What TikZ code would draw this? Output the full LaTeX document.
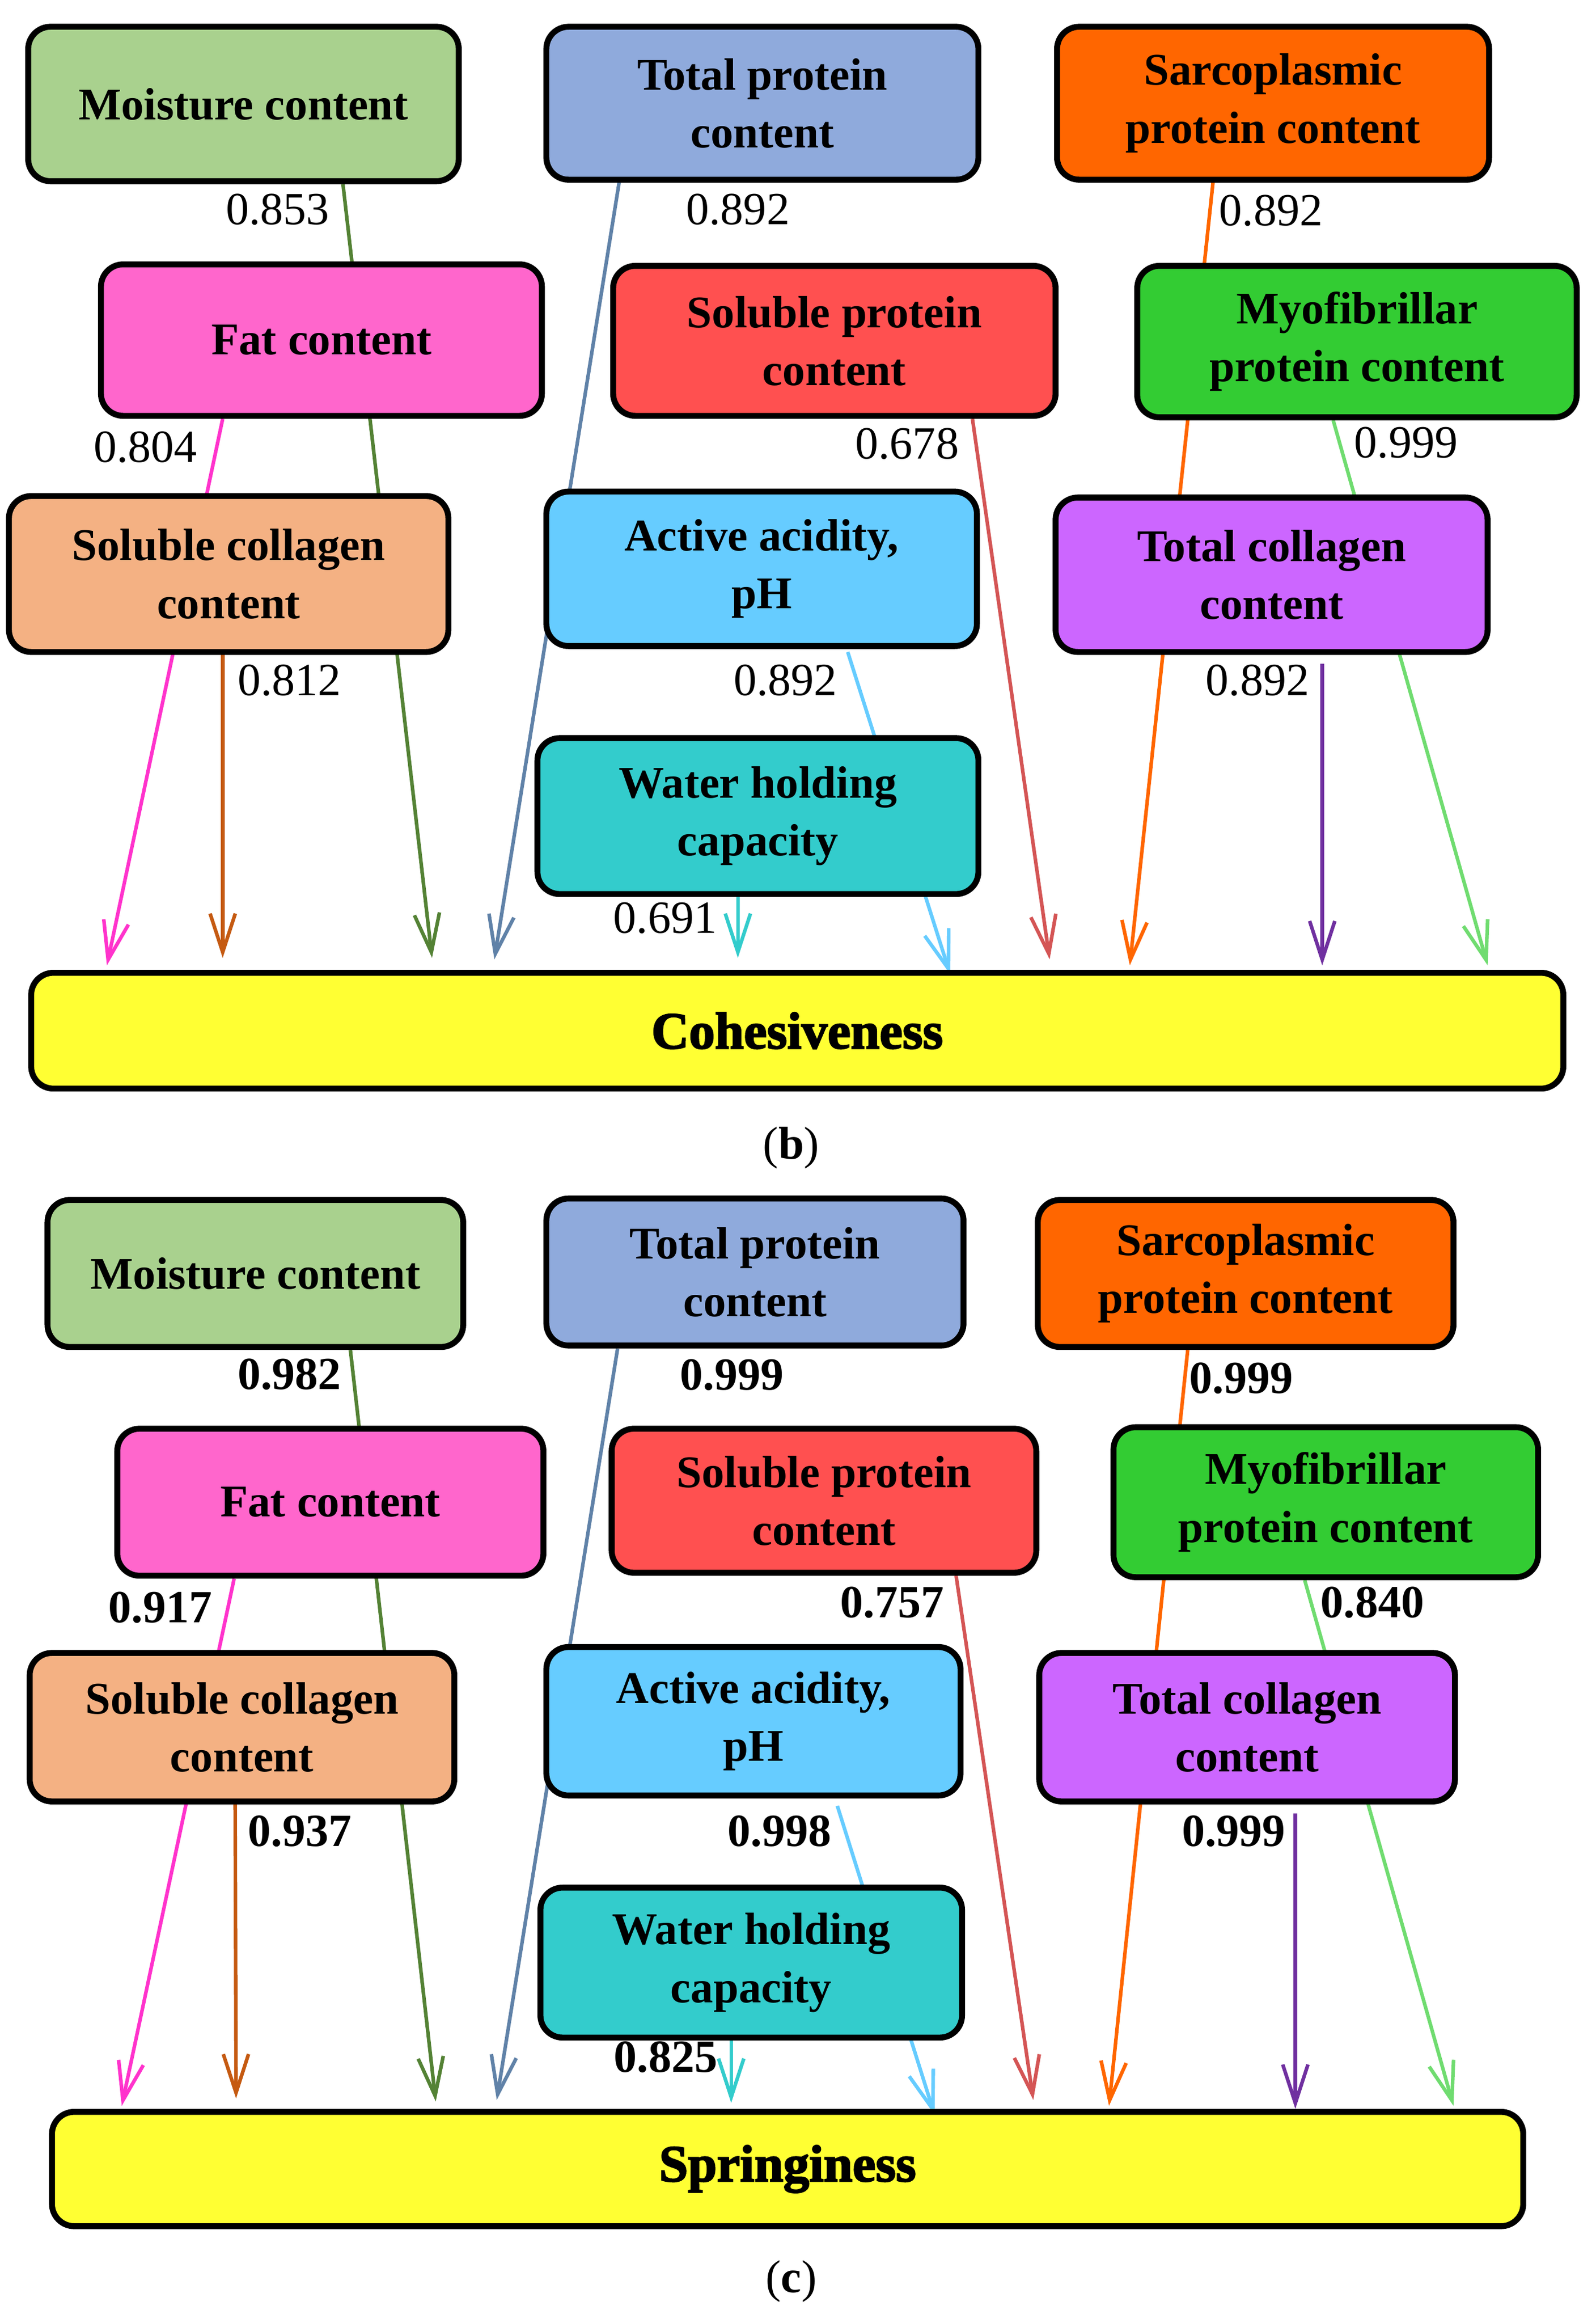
\documentclass[tikz,border=0pt]{standalone}
\usepackage{fontspec}
\setmainfont{Liberation Serif}
\newfontfamily\heavyfont{Liberation Serif}[BoldFeatures={FakeBold=2.5}]
\usetikzlibrary{arrows.meta,calc}
\pgfdeclarelayer{back}
\pgfdeclarelayer{bg}
\pgfsetlayers{back,bg,main}
\definecolor{cMo}{HTML}{A9D18E}
\definecolor{cTp}{HTML}{8FAADC}
\definecolor{cSp}{HTML}{FF6600}
\definecolor{cFat}{HTML}{FF66CC}
\definecolor{cSolp}{HTML}{FF5050}
\definecolor{cMyo}{HTML}{33CC33}
\definecolor{cSc}{HTML}{F4B183}
\definecolor{cPh}{HTML}{66CCFF}
\definecolor{cTc}{HTML}{CC66FF}
\definecolor{cWhc}{HTML}{33CCCC}
\definecolor{cYel}{HTML}{FFFF33}
\definecolor{lGreen}{HTML}{548235}
\definecolor{lPink}{HTML}{FF33CC}
\definecolor{lBrown}{HTML}{C55A11}
\definecolor{lSteel}{HTML}{6082A8}
\definecolor{lTeal}{HTML}{33CCCC}
\definecolor{lBlue}{HTML}{66CCFF}
\definecolor{lRed}{HTML}{D45555}
\definecolor{lOrange}{HTML}{FF6600}
\definecolor{lPurple}{HTML}{7030A0}
\definecolor{lLgreen}{HTML}{70DC70}
\begin{document}
\begin{tikzpicture}[x=1pt,y=-1pt,
  nbox/.style={draw=black, line width=4pt, rounded corners=15pt, align=center, inner sep=0pt,
    font=\fontsize{30.5}{39}\selectfont\bfseries},
  tbox/.style={nbox, fill=cYel, font=\heavyfont\fontsize{35}{40}\selectfont\bfseries},
  lbl/.style={inner sep=0pt, font=\fontsize{31}{34}\selectfont},
  lblc/.style={inner sep=0pt, font=\fontsize{31}{34}\selectfont\bfseries},
  capt/.style={inner sep=0pt, font=\fontsize{31}{34}\selectfont},
  conn/.style={line width=2.4pt, -{Straight Barb[length=26pt,width=17pt]}}
]
\begin{pgfonlayer}{back}
\fill[white] (0,0) rectangle (1075,1564.2);
\end{pgfonlayer}
\useasboundingbox (0,0) rectangle (1075,1564.2);

% ---------------- panel (b) ----------------
\node[nbox, fill=cMo,   minimum width=290pt, minimum height=104pt] (mob)   at (164,70)     {Moisture content};
\node[nbox, fill=cTp,   minimum width=291pt, minimum height=103pt] (tpb)   at (513.5,69.5) {Total protein\\content};
\node[nbox, fill=cSp,   minimum width=291pt, minimum height=103pt] (spb)   at (857.5,69.5) {Sarcoplasmic\\protein content};
\node[nbox, fill=cFat,  minimum width=297pt, minimum height=102pt] (fatb)  at (216.5,229)  {Fat content};
\node[nbox, fill=cSolp, minimum width=298pt, minimum height=101pt] (solpb) at (562,229.5)  {Soluble protein\\content};
\node[nbox, fill=cMyo,  minimum width=296pt, minimum height=102pt] (myob)  at (914,230)    {Myofibrillar\\protein content};
\node[nbox, fill=cSc,   minimum width=296pt, minimum height=105pt] (scb)   at (154,386.5)  {Soluble collagen\\content};
\node[nbox, fill=cPh,   minimum width=290pt, minimum height=104pt] (phb)   at (513,383)    {Active acidity,\\pH};
\node[nbox, fill=cTc,   minimum width=291pt, minimum height=104pt] (tcb)   at (856.5,387)  {Total collagen\\content};
\node[nbox, fill=cWhc,  minimum width=297pt, minimum height=105pt] (whcb)  at (510.5,549.5){Water holding\\capacity};
\node[tbox, minimum width=1032pt, minimum height=78pt] (coh) at (537,694) {Cohesiveness};

\node[lbl] (lb1)  at (187,141) {0.853};
\node[lbl] (lb2)  at (497,141) {0.892};
\node[lbl] (lb3)  at (856,142) {0.892};
\node[lbl] (lb4)  at (98,301)  {0.804};
\node[lbl] (lb5)  at (611,299) {0.678};
\node[lbl] (lb6)  at (947,298) {0.999};
\node[lbl] (lb7)  at (195,458) {0.812};
\node[lbl] (lb8)  at (529,458) {0.892};
\node[lbl] (lb9)  at (847,458) {0.892};
\node[lbl] (lb10) at (448,618) {0.691};
\node[capt] (capb) at (533,773) {(\textbf{b})};

\begin{pgfonlayer}{bg}
\draw[conn, lGreen]  ($(mob.south west)+(214,0)$)   -- ($(coh.north west)+(272,-8)$);
\draw[conn, lPink]   ($(fatb.south west)+(84,0)$)   -- ($(coh.north west)+(53,-3)$);
\draw[conn, lBrown]  ($(scb.south west)+(146,0)$)   -- ($(coh.north west)+(131,-8)$);
\draw[conn, lSteel]  ($(tpb.south west)+(51,0)$)    -- ($(coh.north west)+(314,-7)$);
\draw[conn, lTeal]   ($(whcb.south west)+(137,0)$)  -- ($(coh.north west)+(478,-8)$);
\draw[conn, lBlue]   ($(phb.south west)+(205,2)$)   -- ($(coh.north west)+(621,3)$);
\draw[conn, lRed]    ($(solpb.south west)+(244,0)$) -- ($(coh.north west)+(688,-7)$);
\draw[conn, lOrange] ($(spb.south west)+(107,0)$)   -- ($(coh.north west)+(742,-3)$);
\draw[conn, lPurple] ($(tcb.south west)+(181.6,6)$) -- ($(coh.north west)+(871.6,-3)$);
\draw[conn, lLgreen] ($(myob.south west)+(134,0)$)  -- ($(coh.north west)+(983,-3)$);
\end{pgfonlayer}

% ---------------- panel (c) ----------------
\node[nbox, fill=cMo,   minimum width=280pt, minimum height=99pt]  (moc)   at (172,857.5)   {Moisture content};
\node[nbox, fill=cTp,   minimum width=281pt, minimum height=99pt]  (tpc)   at (508.5,856.5) {Total protein\\content};
\node[nbox, fill=cSp,   minimum width=280pt, minimum height=99pt]  (spc)   at (839,857.5)   {Sarcoplasmic\\protein content};
\node[nbox, fill=cFat,  minimum width=287pt, minimum height=99pt]  (fatc)  at (222.5,1011.5){Fat content};
\node[nbox, fill=cSolp, minimum width=286pt, minimum height=97pt]  (solpc) at (555,1010.5)  {Soluble protein\\content};
\node[nbox, fill=cMyo,  minimum width=286pt, minimum height=101pt] (myoc)  at (893,1011.5)  {Myofibrillar\\protein content};
\node[nbox, fill=cSc,   minimum width=286pt, minimum height=100pt] (scc)   at (163,1163)    {Soluble collagen\\content};
\node[nbox, fill=cPh,   minimum width=279pt, minimum height=100pt] (phc)   at (507.5,1159)  {Active acidity,\\pH};
\node[nbox, fill=cTc,   minimum width=280pt, minimum height=100pt] (tcc)   at (840,1163)    {Total collagen\\content};
\node[nbox, fill=cWhc,  minimum width=284pt, minimum height=101pt] (whcc)  at (506,1321.5)  {Water holding\\capacity};
\node[tbox, minimum width=991pt, minimum height=77pt] (spr) at (530.5,1460.5) {Springiness};

\node[lblc] (lc1)  at (195,925.5)  {0.982};
\node[lblc] (lc2)  at (493,926)    {0.999};
\node[lblc] (lc3)  at (836,928)    {0.999};
\node[lblc] (lc4)  at (108,1082.5) {0.917};
\node[lblc] (lc5)  at (601,1079)   {0.757};
\node[lblc] (lc6)  at (924.5,1079) {0.840};
\node[lblc] (lc7)  at (202,1233)   {0.937};
\node[lblc] (lc8)  at (525,1233)   {0.998};
\node[lblc] (lc9)  at (831,1233)   {0.999};
\node[lblc] (lc10) at (448.5,1385) {0.825};
\node[capt] (capc) at (533,1536) {(\textbf{c})};

\begin{pgfonlayer}{bg}
\draw[conn, lGreen]  ($(moc.south west)+(206,0)$)    -- ($(spr.north west)+(260.5,-5)$);
\draw[conn, lPink]   ($(fatc.south west)+(80.7,0)$)  -- ($(spr.north west)+(49,-2)$);
\draw[conn, lBrown]  ($(scc.south west)+(140.4,0)$)  -- ($(spr.north west)+(126,-7)$);
\draw[conn, lSteel]  ($(tpc.south west)+(50,0)$)     -- ($(spr.north west)+(301.6,-6)$);
\draw[conn, lTeal]   ($(whcc.south west)+(130.5,0)$) -- ($(spr.north west)+(459.5,-4)$);
\draw[conn, lBlue]   ($(phc.south west)+(198,5)$)    -- ($(spr.north west)+(596.5,4)$);
\draw[conn, lRed]    ($(solpc.south west)+(234,0)$)  -- ($(spr.north west)+(663,-6)$);
\draw[conn, lOrange] ($(spc.south west)+(103,0)$)    -- ($(spr.north west)+(714,-2)$);
\draw[conn, lPurple] ($(tcc.south west)+(174.5,6)$)  -- ($(spr.north west)+(839.5,0)$);
\draw[conn, lLgreen] ($(myoc.south west)+(130.8,0)$) -- ($(spr.north west)+(946,-2)$);
\end{pgfonlayer}
\end{tikzpicture}
\end{document}
